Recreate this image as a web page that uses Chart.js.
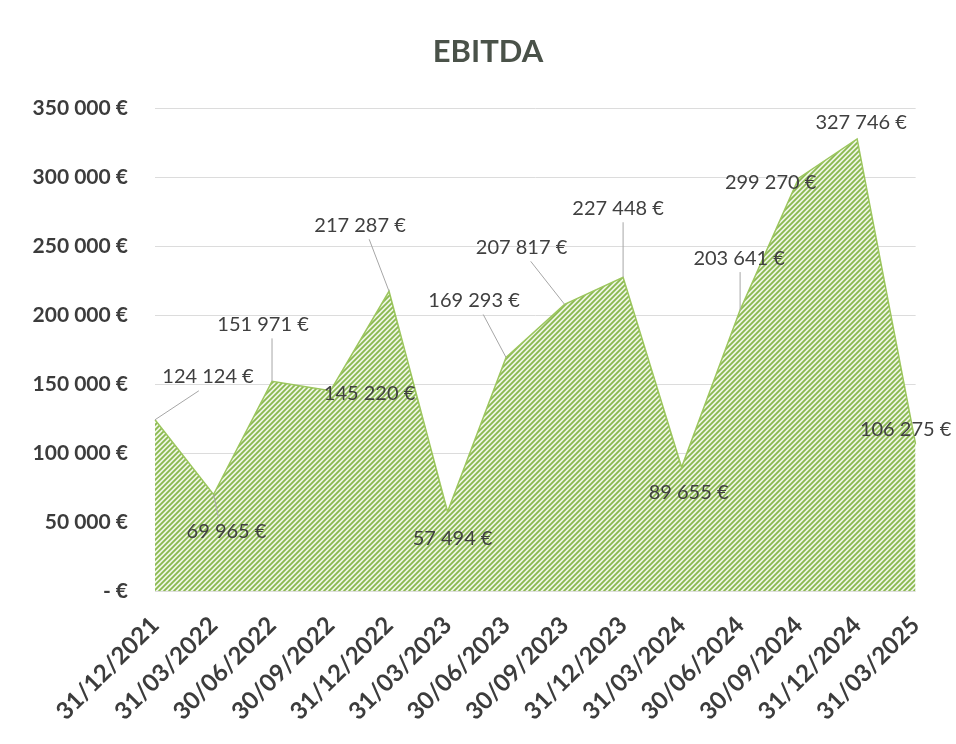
<!DOCTYPE html>
<html>
<head>
<meta charset="utf-8">
<script src="https://cdn.jsdelivr.net/npm/chart.js@4.4.1/dist/chart.umd.min.js"></script>
<style>
  html, body { margin: 0; padding: 0; background: #ffffff; }
  #wrap { width: 956px; height: 744px; position: relative; }
</style>
</head>
<body>
<div id="wrap"><canvas id="c" width="956" height="744"></canvas></div>
<script>
// ---- Data ----
const categories = ["31/12/2021","31/03/2022","30/06/2022","30/09/2022","31/12/2022","31/03/2023","30/06/2023","30/09/2023","31/12/2023","31/03/2024","30/06/2024","30/09/2024","31/12/2024","31/03/2025"];
const ebitda = [124124, 69965, 151971, 145220, 217287, 57494, 169293, 207817, 227448, 89655, 203641, 299270, 327746, 106275];
const yTicks = [0, 50000, 100000, 150000, 200000, 250000, 300000, 350000];
const chartTitle = "EBITDA";

// ---- Label layout (offset of label centre from its point, and whether a leader line is drawn) ----
const labelOffsets = [[53,-43],[13,37],[-9,-57],[39,3],[-29,-66],[5,27],[-32,-57],[-43,-57],[-5,-69],[7,25],[-1,-52],[-28,4],[4,-16],[-10,-15]];
const labelLeaders = [true,true,true,false,true,false,true,true,true,false,true,false,false,false];

function fmt(v) {
  if (v === 0) return "- €";
  return String(v).replace(/\B(?=(\d{3})+(?!\d))/g, " ") + " €";
}

function makeHatch() {
  const n = 5;
  const c = document.createElement("canvas");
  c.width = n; c.height = n;
  const g = c.getContext("2d");
  g.fillStyle = "#eff6e6";
  g.fillRect(0, 0, n, n);
  g.strokeStyle = "#8ab84f";
  g.lineWidth = 1.8;
  g.beginPath();
  g.moveTo(-1, n + 1); g.lineTo(n + 1, -1);
  g.moveTo(-1, 1); g.lineTo(1, -1);
  g.moveTo(n - 1, n + 1); g.lineTo(n + 1, n - 1);
  g.stroke();
  return g.createPattern(c, "repeat");
}

const dataLabelPlugin = {
  id: "dataLabels",
  afterDatasetsDraw(chart) {
    const ctx = chart.ctx;
    const meta = chart.getDatasetMeta(0);
    ctx.save();
    ctx.font = "20px Lato";
    ctx.textAlign = "center";
    ctx.textBaseline = "middle";
    meta.data.forEach((pt, i) => {
      const txt = fmt(ebitda[i]);
      const off = labelOffsets[i];
      const bx = pt.x + off[0], by = pt.y + off[1];
      const w = ctx.measureText(txt).width, h = 20;
      if (labelLeaders[i]) {
        const ax = Math.min(Math.max(pt.x, bx - w * 0.1), bx + w * 0.1);
        const ay = pt.y > by ? by + h / 2 + 4 : by - h / 2 - 4;
        ctx.strokeStyle = "#a6a6a6";
        ctx.lineWidth = 1;
        ctx.beginPath();
        ctx.moveTo(ax, ay);
        ctx.lineTo(pt.x, pt.y);
        ctx.stroke();
      }
      ctx.fillStyle = "#404040";
      ctx.fillText(txt, bx, by);
    });
    ctx.restore();
  }
};

// Draws the title text (slightly right of canvas centre, as in the original) inside the space reserved by the Chart.js title block
const titlePlugin = {
  id: "shiftedTitle",
  afterDraw(chart) {
    const tb = chart.titleBlock;
    const ctx = chart.ctx;
    ctx.save();
    ctx.font = "bold 31px Lato";
    ctx.fillStyle = "#4a5249";
    ctx.textAlign = "center";
    ctx.textBaseline = "middle";
    const y = tb.top + 33 + (31 * 1.2) / 2;
    ctx.fillText(chartTitle, chart.width / 2 + 10, y);
    ctx.restore();
  }
};

new Chart(document.getElementById("c"), {
  type: "line",
  data: {
    labels: categories,
    datasets: [{
      data: ebitda,
      fill: "origin",
      backgroundColor: makeHatch(),
      borderColor: "#9cc65e",
      borderWidth: 1.5,
      pointRadius: 0,
      tension: 0
    }]
  },
  options: {
    responsive: false,
    animation: false,
    layout: { padding: { left: 0, right: 38, top: 0, bottom: 0 } },
    plugins: {
      legend: { display: false },
      tooltip: { enabled: false },
      title: {
        display: true,
        text: chartTitle,
        color: "rgba(0,0,0,0)",
        font: { family: "Lato", size: 31, weight: "bold" },
        padding: { top: 33, bottom: 38 }
      }
    },
    scales: {
      x: {
        offset: false,
        grid: { display: false, drawTicks: false },
        border: { display: false },
        ticks: {
          autoSkip: false,
          maxRotation: 45,
          minRotation: 45,
          padding: 20,
          color: "#3c3c3c",
          font: { family: "Lato", size: 24, weight: "bold" }
        },
        afterFit(s) { s.height = 153; }
      },
      y: {
        min: 0,
        max: 350000,
        afterBuildTicks(s) { s.ticks = yTicks.map(v => ({ value: v })); },
        grid: { color: "#dcdcdc", drawTicks: false, lineWidth: 1 },
        border: { display: false },
        ticks: {
          padding: 27,
          color: "#3c3c3c",
          font: { family: "Lato", size: 21, weight: "bold" },
          callback: (v) => fmt(v)
        },
        afterFit(s) { s.width = 155; }
      }
    }
  },
  plugins: [dataLabelPlugin, titlePlugin]
});
</script>
</body>
</html>
